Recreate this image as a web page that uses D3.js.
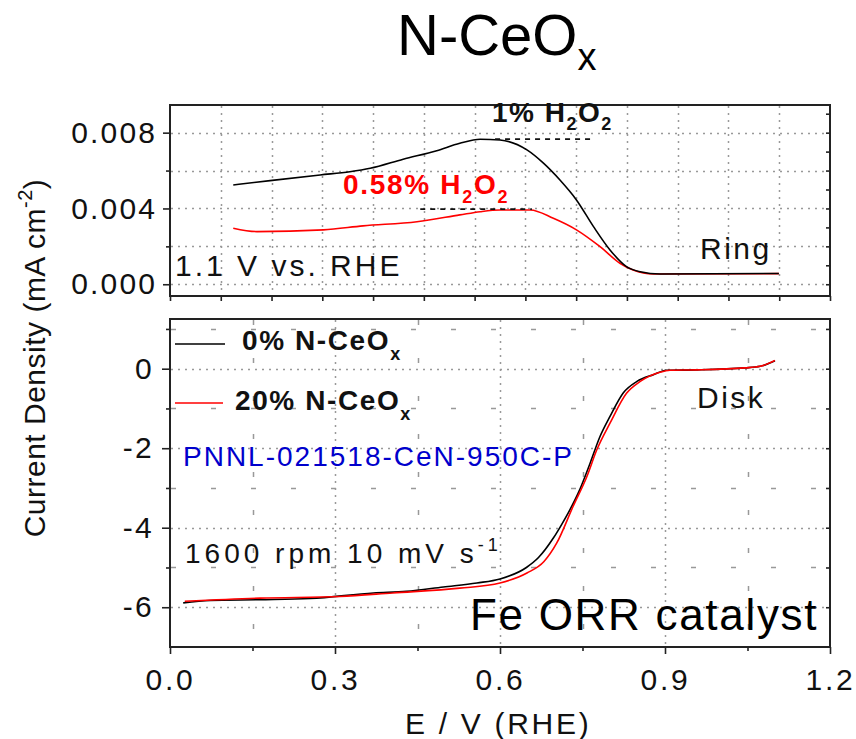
<!DOCTYPE html>
<html>
<head>
<meta charset="utf-8">
<script src="https://cdn.jsdelivr.net/npm/d3@7"></script>
<style>
  body { margin: 0; background: #fff; }
  svg text { font-family: "Liberation Sans", Arial, sans-serif; }
</style>
</head>
<body>
<script>
(function(){

    //ring current, 0% N-CeOx (black)
    var ringE0 = [0.115, 0.182, 0.273, 0.327, 0.364, 0.424, 0.485, 0.527, 0.564, 0.600, 0.649, 0.679, 0.709, 0.739, 0.770, 0.800, 0.830, 0.855, 0.891, 1.107];
    var ringI0 = [0.00524, 0.00547, 0.00577, 0.00594, 0.00612, 0.00660, 0.00705, 0.00744, 0.00765, 0.00761, 0.00709, 0.00639, 0.00550, 0.00445, 0.00304, 0.00181, 0.00093, 0.00066, 0.00054, 0.00057];

    //ring current, 20% N-CeOx (red)
    var ringE20 = [0.115, 0.158, 0.279, 0.351, 0.449, 0.527, 0.564, 0.600, 0.655, 0.697, 0.739, 0.782, 0.818, 0.842, 0.879, 1.107];
    var ringI20 = [0.00296, 0.00278, 0.00287, 0.00308, 0.00330, 0.00366, 0.00383, 0.00392, 0.00392, 0.00348, 0.00287, 0.00198, 0.00111, 0.00075, 0.00054, 0.00056];

    //disk current, 0% N-CeOx (black)
    var diskE0 = [0.024, 0.073, 0.164, 0.255, 0.370, 0.430, 0.497, 0.558, 0.600, 0.648, 0.670, 0.697, 0.712, 0.727, 0.745, 0.764, 0.782, 0.800, 0.824, 0.849, 0.879, 0.903, 0.958, 1.045, 1.073, 1.100];
    var diskJ0 = [-5.89, -5.83, -5.81, -5.78, -5.64, -5.60, -5.49, -5.39, -5.29, -5.00, -4.75, -4.26, -3.92, -3.55, -3.04, -2.37, -1.70, -1.20, -0.61, -0.32, -0.15, -0.04, -0.03, 0.02, 0.06, 0.20];

    //disk current, 20% N-CeOx (red)
    var diskE20 = [0.027, 0.164, 0.309, 0.405, 0.527, 0.600, 0.649, 0.680, 0.703, 0.733, 0.758, 0.776, 0.800, 0.830, 0.855, 0.891, 0.909, 0.958, 1.045, 1.073, 1.100];
    var diskJ20 = [-5.85, -5.77, -5.73, -5.64, -5.52, -5.39, -5.14, -4.85, -4.39, -3.46, -2.71, -2.04, -1.37, -0.62, -0.32, -0.09, -0.04, -0.03, 0.02, 0.06, 0.21];

    //dashed peak markers [E start, E end, ring current]
    var peak0 = [0.591, 0.769, 0.00766];
    var peak20 = [0.455, 0.658, 0.00396];

    //tick values
    var xMajor = [0, 0.3, 0.6, 0.9, 1.2];
    var xMinor = [0.15, 0.45, 0.75, 1.05];
    var ringMajor = [0, 0.004, 0.008];
    var ringMinor = [0.002, 0.006];
    var diskMajor = [-6, -4, -2, 0];
    var diskMinor = [-5, -3, -1, 1];

    var font = "'Liberation Sans', Arial, sans-serif";

    var svg = d3.select("body")
        .append("svg")
        .attr("width", 856)
        .attr("height", 739);

    //scales
    var x = d3.scaleLinear().domain([0, 1.2]).range([170, 830]);
    var xRingTicks = d3.scaleLinear().domain([0, 1.3]).range([170, 830]); //top panel tick spacing
    var yRing = d3.scaleLinear().domain([-0.00062, 0.00946]).range([296, 105]);
    var yDisk = d3.scaleLinear().domain([-7, 1.25]).range([647, 319]);

    //grid helpers
    function vGrid(vals, sc, y0, y1, dash){
        svg.append("g").selectAll("line")
            .data(vals).enter().append("line")
            .attr("x1", function(d){ return Math.round(sc(d)) + 0.5; })
            .attr("x2", function(d){ return Math.round(sc(d)) + 0.5; })
            .attr("y1", y0).attr("y2", y1)
            .attr("stroke", "#999")
            .attr("stroke-width", 1.5)
            .attr("stroke-dasharray", dash);
    }
    function hGrid(vals, sc, x0, x1, dash){
        svg.append("g").selectAll("line")
            .data(vals).enter().append("line")
            .attr("y1", function(d){ return Math.round(sc(d)) + 0.5; })
            .attr("y2", function(d){ return Math.round(sc(d)) + 0.5; })
            .attr("x1", x0).attr("x2", x1)
            .attr("stroke", "#999")
            .attr("stroke-width", 1.5)
            .attr("stroke-dasharray", dash);
    }

    //top panel grid (dotted)
    var ringGridX = d3.range(1, 13).map(function(i){ return i / 10; });
    vGrid(ringGridX, xRingTicks, 106, 295, "2,5");
    hGrid([0, 0.002, 0.004, 0.006, 0.008], yRing, 171, 829, "2,5");

    //bottom panel grid: dotted at major, dashed at minor
    vGrid([0.3, 0.6, 0.9], x, 320, 646, "2,5");
    vGrid(xMinor, x, 320, 646, "5,33");
    hGrid(diskMajor, yDisk, 171, 829, "2,5");
    hGrid(diskMinor, yDisk, 171, 829, "5,35");

    //axis styling
    function styleAxis(g){
        g.select(".domain").remove();
        g.selectAll(".tick line").attr("stroke", "#222").attr("stroke-width", 1.6);
        g.selectAll("text")
            .attr("font-size", 30)
            .attr("font-family", font)
            .attr("fill", "#111")
            .style("letter-spacing", "2.2px");
    }

    //top panel axes
    svg.append("g").attr("transform", "translate(170,0)")
        .call(d3.axisLeft(yRing).tickValues(ringMajor).tickFormat(d3.format(".3f")).tickSize(7).tickPadding(5.8).tickSizeOuter(0))
        .call(styleAxis);
    svg.append("g").attr("transform", "translate(170,0)")
        .call(d3.axisLeft(yRing).tickValues(ringMinor).tickFormat("").tickSize(4).tickSizeOuter(0))
        .call(styleAxis);
    svg.append("g").attr("transform", "translate(830,0)")
        .call(d3.axisLeft(yRing).tickValues(d3.range(0, 10).map(function(i){ return i / 1000; })).tickFormat("").tickSize(4).tickSizeOuter(0))
        .call(styleAxis);
    svg.append("g").attr("transform", "translate(0,296)")
        .call(d3.axisBottom(xRingTicks).tickValues(d3.range(0, 14).map(function(i){ return i / 10; })).tickFormat("").tickSize(5).tickSizeOuter(0))
        .call(styleAxis);

    //bottom panel axes
    svg.append("g").attr("transform", "translate(170,0)")
        .call(d3.axisLeft(yDisk).tickValues(diskMajor).tickFormat(function(d){ return String(d); }).tickSize(8).tickPadding(8.1).tickSizeOuter(0))
        .call(styleAxis);
    svg.append("g").attr("transform", "translate(170,0)")
        .call(d3.axisLeft(yDisk).tickValues(diskMinor).tickFormat("").tickSize(4).tickSizeOuter(0))
        .call(styleAxis);
    svg.append("g").attr("transform", "translate(830,0)")
        .call(d3.axisLeft(yDisk).tickValues(d3.range(-6, 2)).tickFormat("").tickSize(4).tickSizeOuter(0))
        .call(styleAxis);
    var xAxis = svg.append("g").attr("transform", "translate(0,647)")
        .call(d3.axisBottom(x).tickValues(xMajor).tickFormat(d3.format(".1f")).tickSize(7).tickPadding(14.7).tickSizeOuter(0))
        .call(styleAxis);
    xAxis.selectAll("text").style("letter-spacing", "2.7px");
    svg.append("g").attr("transform", "translate(0,647)")
        .call(d3.axisBottom(x).tickValues(xMinor).tickFormat("").tickSize(4).tickSizeOuter(0))
        .call(styleAxis);

    //frames
    svg.append("rect").attr("x", 170).attr("y", 105).attr("width", 660).attr("height", 191)
        .attr("fill", "none").attr("stroke", "#222").attr("stroke-width", 2);
    svg.append("rect").attr("x", 170).attr("y", 319).attr("width", 660).attr("height", 328)
        .attr("fill", "none").attr("stroke", "#222").attr("stroke-width", 2);

    //curves
    function drawCurve(es, vs, ys, color){
        var line = d3.line()
            .x(function(d, i){ return x(es[i]); })
            .y(function(d){ return ys(d); })
            .curve(d3.curveMonotoneX);
        svg.append("path")
            .datum(vs)
            .attr("d", line)
            .attr("fill", "none")
            .attr("stroke", color)
            .attr("stroke-width", 1.6);
    }
    drawCurve(ringE20, ringI20, yRing, "#ff0000");
    drawCurve(ringE0, ringI0, yRing, "#000");
    drawCurve(diskE0, diskJ0, yDisk, "#000");
    drawCurve(diskE20, diskJ20, yDisk, "#ff0000");

    //peak markers
    [peak0, peak20].forEach(function(p){
        svg.append("line")
            .attr("x1", x(p[0])).attr("x2", x(p[1]))
            .attr("y1", yRing(p[2])).attr("y2", yRing(p[2]))
            .attr("stroke", "#111").attr("stroke-width", 1.8)
            .attr("stroke-dasharray", "5,5");
    });

    //text helper: parts = [[text, dy, size]]
    function label(px, py, size, parts, opts){
        opts = opts || {};
        var t = svg.append("text")
            .attr("x", px).attr("y", py)
            .attr("font-size", size)
            .attr("font-family", font)
            .attr("font-weight", opts.bold ? "bold" : "normal")
            .attr("fill", opts.color || "#111")
            .style("letter-spacing", (opts.ls || 0) + "px");
        if (opts.anchor) t.attr("text-anchor", opts.anchor);
        if (opts.rotate) t.attr("transform", "rotate(-90," + px + "," + py + ")");
        parts.forEach(function(p){
            var s = t.append("tspan").text(p[0]);
            if (p[1]) s.attr("dy", p[1]);
            if (p[2]) s.attr("font-size", p[2]);
        });
        return t;
    }

    //title
    label(397, 55, 58, [["N-CeO"], ["x", 15, 38]], {color: "#000"});

    //axis titles
    label(45, 358, 30, [["Current Density (mA cm"], ["-2", -13, 20], [")", 13]], {anchor: "middle", rotate: true, ls: 0.5});
    label(405, 734, 30, [["E / V (RHE)"]], {ls: 2.7});

    //top panel annotations
    label(492, 122, 28, [["1% H"], ["2", 8, 18], ["O", -8], ["2", 8, 18]], {bold: true, ls: 1.5});
    label(343, 194, 28, [["0.58% H"], ["2", 9, 18], ["O", -9], ["2", 9, 18]], {bold: true, ls: 1.7, color: "#ff0000"});
    label(175, 276, 30, [["1.1 V vs. RHE"]], {ls: 3});
    label(700, 259, 30, [["Ring"]], {ls: 2.5});

    //legend
    svg.append("line").attr("x1", 175).attr("x2", 225).attr("y1", 344).attr("y2", 344)
        .attr("stroke", "#000").attr("stroke-width", 1.6);
    svg.append("line").attr("x1", 175).attr("x2", 223).attr("y1", 403).attr("y2", 403)
        .attr("stroke", "#ff0000").attr("stroke-width", 1.6);
    label(242, 350, 28, [["0% N-CeO"], ["x", 10, 18]], {bold: true, ls: 1.6});
    label(235, 410, 28, [["20% N-CeO"], ["x", 10, 18]], {bold: true, ls: 1.6});

    //bottom panel annotations
    label(697, 408, 30, [["Disk"]], {ls: 2.5});
    label(183, 466, 28, [["PNNL-021518-CeN-950C-P"]], {ls: 2, color: "#0000cc"});
    label(185, 563, 28, [["1600 rpm 10 mV s"], ["-1", -12, 18]], {ls: 4});
    label(470, 630, 44, [["Fe ORR catalyst"]], {ls: 1.7, color: "#000"});

})();
</script>
</body>
</html>
